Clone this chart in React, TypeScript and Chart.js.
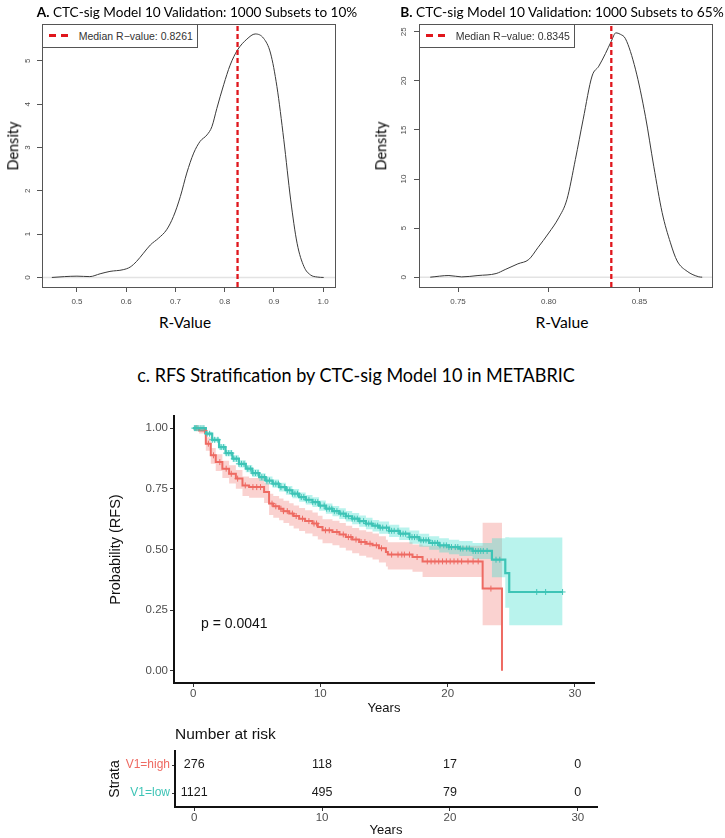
import React, { useEffect, useRef } from "react";
import { Chart, registerables } from "chart.js";

Chart.register(...registerables);
Chart.defaults.font.family = "'Liberation Sans', Arial, sans-serif";

// ---------- Panel A: density of R-values, 1000 subsets to 10% ----------
const rValuesA = [0.449, 0.475, 0.5, 0.526, 0.547, 0.567, 0.594, 0.608, 0.621, 0.635, 0.649, 0.666, 0.682, 0.696, 0.71, 0.723, 0.737, 0.75, 0.764, 0.774, 0.784, 0.798, 0.811, 0.826, 0.845, 0.862, 0.879, 0.893, 0.906, 0.92, 0.934, 0.947, 0.961, 0.974, 0.988, 1.001];
const densityA = [0.0, 0.02, 0.03, 0.02, 0.085, 0.14, 0.18, 0.24, 0.37, 0.56, 0.75, 0.91, 1.1, 1.41, 1.87, 2.41, 2.87, 3.14, 3.29, 3.48, 3.9, 4.45, 4.9, 5.25, 5.5, 5.62, 5.52, 5.18, 4.41, 3.18, 1.79, 0.79, 0.25, 0.06, 0.01, 0.0];
const medianA = 0.8261;
const xTicksA = [0.5, 0.6, 0.7, 0.8, 0.9, 1.0];
const yTicksA = [0, 1, 2, 3, 4, 5];

// ---------- Panel B: density of R-values, 1000 subsets to 65% ----------
const rValuesB = [0.7347, 0.745, 0.752, 0.761, 0.771, 0.776, 0.783, 0.789, 0.794, 0.8, 0.8055, 0.81, 0.8147, 0.819, 0.8239, 0.8276, 0.8313, 0.8345, 0.837, 0.8395, 0.8423, 0.8478, 0.8533, 0.8579, 0.8625, 0.8671, 0.8708, 0.8763, 0.8827, 0.8846];
const densityB = [0, 0.17, 0.03, 0.17, 0.37, 0.78, 1.36, 1.8, 3.0, 4.5, 6.05, 7.9, 12.0, 16.1, 20.5, 21.5, 22.8, 24.05, 24.9, 24.75, 24.3, 21.2, 16.4, 11.3, 6.6, 3.5, 1.65, 0.6, 0.04, 0];
const medianB = 0.8345;
const xTicksB = [0.75, 0.8, 0.85];
const yTicksB = [0, 5, 10, 15, 20, 25];

// ---------- Panel C: RFS Kaplan-Meier curves by V1 stratum ----------
const highTimes = [0, 0.47, 1.0, 1.39, 1.78, 2.3, 2.83, 3.36, 3.88, 4.4, 5.58, 5.97, 6.3, 6.76, 7.1, 7.55, 7.9, 8.33, 8.8, 9.38, 9.8, 10.17, 10.95, 11.5, 12.0, 12.5, 13.05, 13.6, 14.1, 14.6, 15.15, 15.3, 17.24, 18.03, 22.75, 24.27];
const highSurv = [1.0, 0.99, 0.936, 0.888, 0.86, 0.833, 0.812, 0.792, 0.764, 0.757, 0.737, 0.689, 0.678, 0.668, 0.658, 0.648, 0.638, 0.627, 0.617, 0.607, 0.593, 0.579, 0.572, 0.562, 0.551, 0.541, 0.531, 0.524, 0.517, 0.505, 0.49, 0.479, 0.469, 0.451, 0.339, 0.0];
const highUpper = [1.0, 1.0, 0.962, 0.918, 0.892, 0.866, 0.847, 0.828, 0.801, 0.795, 0.776, 0.73, 0.72, 0.71, 0.701, 0.691, 0.681, 0.671, 0.662, 0.652, 0.639, 0.625, 0.618, 0.609, 0.598, 0.589, 0.579, 0.573, 0.566, 0.555, 0.54, 0.53, 0.521, 0.515, 0.61, 0.188];
const highLower = [1.0, 0.978, 0.907, 0.853, 0.823, 0.795, 0.772, 0.75, 0.72, 0.713, 0.692, 0.642, 0.631, 0.62, 0.609, 0.598, 0.587, 0.576, 0.566, 0.555, 0.541, 0.526, 0.518, 0.507, 0.496, 0.485, 0.474, 0.467, 0.459, 0.446, 0.43, 0.418, 0.408, 0.387, 0.188, 0.188];
const highCensor = [0.3, 0.9, 1.2, 1.6, 2.1, 2.6, 3.0, 3.5, 4.1, 4.7, 5.0, 5.3, 6.2, 6.5, 6.9, 7.1, 7.4, 7.8, 8.1, 8.6, 9.1, 9.5, 9.7, 10.4, 10.7, 11.3, 11.8, 12.2, 12.4, 12.8, 13.2, 13.5, 13.9, 14.4, 14.8, 15.6, 16.1, 16.4, 16.6, 17.0, 17.6, 18.4, 18.7, 19.0, 19.3, 19.6, 19.9, 20.2, 20.5, 20.8, 21.1, 21.6, 22.0, 22.4, 23.4];

const lowTimes = [0, 0.47, 1.0, 1.5, 2.04, 2.55, 3.09, 3.6, 4.14, 4.65, 5.19, 5.7, 6.24, 6.75, 7.29, 7.8, 8.33, 8.85, 9.38, 9.9, 10.43, 10.95, 11.48, 12.0, 12.5, 13.05, 13.58, 14.1, 14.62, 15.4, 16.2, 17.0, 17.77, 18.55, 19.34, 20.1, 20.91, 21.96, 23.48, 24.53, 24.84, 29.03];
const lowSurv = [1.0, 1.0, 0.977, 0.952, 0.922, 0.897, 0.874, 0.853, 0.833, 0.815, 0.798, 0.784, 0.771, 0.757, 0.744, 0.73, 0.716, 0.705, 0.695, 0.681, 0.668, 0.658, 0.648, 0.637, 0.627, 0.617, 0.607, 0.598, 0.59, 0.577, 0.565, 0.551, 0.538, 0.527, 0.517, 0.51, 0.504, 0.494, 0.458, 0.403, 0.325, 0.325];
const lowUpper = [1.0, 1.0, 0.985, 0.962, 0.934, 0.91, 0.888, 0.868, 0.848, 0.831, 0.814, 0.801, 0.788, 0.775, 0.762, 0.749, 0.735, 0.725, 0.715, 0.702, 0.689, 0.679, 0.67, 0.659, 0.65, 0.64, 0.631, 0.622, 0.615, 0.602, 0.591, 0.578, 0.565, 0.555, 0.546, 0.54, 0.535, 0.527, 0.546, 0.55, 0.549, 0.549];
const lowLower = [1.0, 1.0, 0.969, 0.942, 0.91, 0.884, 0.86, 0.838, 0.818, 0.799, 0.782, 0.767, 0.754, 0.739, 0.726, 0.711, 0.697, 0.685, 0.675, 0.66, 0.647, 0.637, 0.626, 0.615, 0.604, 0.594, 0.583, 0.574, 0.565, 0.552, 0.539, 0.524, 0.511, 0.499, 0.488, 0.48, 0.473, 0.461, 0.386, 0.26, 0.188, 0.188];
const lowCensor = [0.1, 0.2, 0.3, 0.4, 0.55, 0.7, 0.85, 1.1, 1.3, 1.5, 1.7, 1.95, 2.2, 2.4, 2.6, 2.8, 3.0, 3.2, 3.4, 3.6, 3.8, 4.0, 4.3, 4.5, 4.7, 4.9, 5.1, 5.4, 5.6, 5.8, 6.0, 6.3, 6.5, 6.7, 6.9, 7.2, 7.4, 7.6, 7.8, 8.0, 8.2, 8.5, 8.7, 8.9, 9.1, 9.4, 9.6, 9.8, 10.0, 10.3, 10.5, 10.7, 10.9, 11.1, 11.3, 11.6, 11.8, 12.0, 12.2, 12.5, 12.7, 12.9, 13.1, 13.4, 13.6, 13.8, 14.0, 14.3, 14.5, 14.7, 14.9, 15.2, 15.4, 15.6, 15.8, 16.1, 16.3, 16.5, 16.7, 17.0, 17.2, 17.4, 17.6, 17.9, 18.1, 18.3, 18.5, 18.8, 19.0, 19.2, 19.4, 19.7, 19.9, 20.1, 20.3, 20.6, 20.8, 21.0, 21.2, 21.5, 21.7, 22.0, 22.2, 22.4, 22.6, 22.8, 23.1, 23.8, 24.1, 27.0, 27.7, 29.03];

const kmXTicks = [0, 10, 20, 30];
const kmYTicks = [0, 0.25, 0.5, 0.75, 1.0];

// Number at risk table
const strata = ["V1=high", "V1=low"];
const riskTimes = [0, 10, 20, 30];
const riskHigh = [276, 118, 17, 0];
const riskLow = [1121, 495, 79, 0];

const HIGH = "#EE6A62";
const LOW = "#3EC4B6";
const HIGH_BAND = "rgba(238, 106, 98, 0.3)";
const LOW_BAND = "rgba(62, 222, 206, 0.36)";
const MEDIAN_RED = "#E0161C";

// value of a right-continuous step function at time t
function stepValue(times: number[], values: number[], t: number) {
  let v = values[0];
  for (let i = 0; i < times.length; i++) {
    if (times[i] <= t) v = values[i];
  }
  return v;
}

// thin box around the plotting region (base-graphics style)
const framePlugin = {
  id: "frame",
  afterDatasetsDraw(chart: any) {
    const { ctx, chartArea: a } = chart;
    ctx.save();
    ctx.strokeStyle = "#555";
    ctx.lineWidth = 1;
    ctx.strokeRect(Math.round(a.left) + 0.5, Math.round(a.top) + 0.5, Math.round(a.right - a.left), Math.round(a.bottom - a.top));
    ctx.restore();
  },
};

type DensityProps = {
  left: number;
  width: number;
  height: number;
  axisWidth: number;
  padRight: number;
  plotBottom: number;
  xs: number[];
  ys: number[];
  median: number;
  xRange: [number, number];
  yRange: [number, number];
  xTicks: number[];
  yTicks: number[];
  decimals: number;
  yTickPad: number;
};

function DensityChart(p: DensityProps) {
  const ref = useRef<HTMLCanvasElement>(null);
  useEffect(() => {
    const tickGrid = { display: true, drawOnChartArea: false, drawTicks: true, tickLength: 5, tickColor: "#555", tickWidth: 1 };
    const chart = new Chart(ref.current as HTMLCanvasElement, {
      type: "line",
      data: {
        datasets: [
          {
            data: [{ x: p.median, y: p.yRange[0] }, { x: p.median, y: p.yRange[1] }],
            borderColor: MEDIAN_RED,
            borderWidth: 2.3,
            borderDash: [5, 3],
            pointRadius: 0,
            order: 0,
          },
          {
            data: p.xs.map((x, i) => ({ x, y: p.ys[i] })),
            borderColor: "#3a3a3a",
            borderWidth: 1,
            pointRadius: 0,
            tension: 0.4,
            cubicInterpolationMode: "monotone",
            order: 1,
          },
          {
            data: [{ x: p.xRange[0], y: 0 }, { x: p.xRange[1], y: 0 }],
            borderColor: "#e3e3e3",
            borderWidth: 1.5,
            pointRadius: 0,
            order: 2,
          },
        ],
      } as any,
      options: {
        animation: false,
        responsive: false,
        devicePixelRatio: 1,
        events: [],
        layout: { padding: { top: 24, right: p.padRight, left: 0, bottom: 0 } },
        plugins: { legend: { display: false }, tooltip: { enabled: false } },
        scales: {
          x: {
            type: "linear",
            min: p.xRange[0],
            max: p.xRange[1],
            afterBuildTicks: (s: any) => { s.ticks = p.xTicks.map((v) => ({ value: v })); },
            afterFit: (s: any) => { s.height = p.height - p.plotBottom; },
            border: { display: false },
            grid: tickGrid,
            ticks: {
              color: "#4a4a4a",
              font: { size: 8 },
              padding: 5,
              autoSkip: false,
              maxRotation: 0,
              callback: (v: any) => Number(v).toFixed(p.decimals),
            },
          },
          y: {
            type: "linear",
            min: p.yRange[0],
            max: p.yRange[1],
            afterBuildTicks: (s: any) => { s.ticks = p.yTicks.map((v) => ({ value: v })); },
            afterFit: (s: any) => { s.width = p.axisWidth; },
            border: { display: false },
            grid: tickGrid,
            ticks: {
              color: "#4a4a4a",
              font: { size: 8 },
              padding: p.yTickPad,
              autoSkip: false,
              minRotation: 90,
              maxRotation: 90,
              crossAlign: "center",
              callback: (v: any) => String(v),
            },
          },
        },
      } as any,
      plugins: [framePlugin],
    });
    return () => chart.destroy();
  }, []);
  return <canvas ref={ref} width={p.width} height={p.height} style={{ position: "absolute", left: p.left, top: 0 }} />;
}

function KMChart() {
  const ref = useRef<HTMLCanvasElement>(null);
  useEffect(() => {
    const pts = (ts: number[], vs: number[]) => ts.map((t, i) => ({ x: t, y: vs[i] }));
    const censorPts = (cs: number[], ts: number[], vs: number[]) => cs.map((c) => ({ x: c, y: stepValue(ts, vs, c) }));
    const band = (ts: number[], vs: number[], color: string, fill: any, order: number) => ({
      data: pts(ts, vs),
      stepped: "before",
      borderWidth: 0,
      borderColor: "transparent",
      pointRadius: 0,
      backgroundColor: color,
      fill,
      order,
    });
    const tickGrid = { display: true, drawOnChartArea: false, drawTicks: true, tickLength: 4, tickColor: "#333", tickWidth: 1 };
    const chart = new Chart(ref.current as HTMLCanvasElement, {
      type: "line",
      data: {
        datasets: [
          band(highTimes, highUpper, HIGH_BAND, "+1", 11),
          band(highTimes, highLower, HIGH_BAND, false, 11),
          band(lowTimes, lowUpper, LOW_BAND, "+1", 10),
          band(lowTimes, lowLower, LOW_BAND, false, 10),
          { data: pts(highTimes, highSurv), stepped: "before", borderColor: HIGH, borderWidth: 2, pointRadius: 0, fill: false, order: 6 },
          { data: pts(lowTimes, lowSurv), stepped: "before", borderColor: LOW, borderWidth: 2.2, pointRadius: 0, fill: false, order: 5 },
          { data: censorPts(highCensor, highTimes, highSurv), showLine: false, pointStyle: "cross", pointRadius: 3, borderColor: HIGH, borderWidth: 1, order: 2 },
          { data: censorPts(lowCensor, lowTimes, lowSurv), showLine: false, pointStyle: "cross", pointRadius: 3, borderColor: LOW, borderWidth: 1, order: 1 },
        ],
      } as any,
      options: {
        animation: false,
        responsive: false,
        devicePixelRatio: 1,
        events: [],
        layout: { padding: { top: 21, right: 131, left: 100, bottom: 0 } },
        plugins: { legend: { display: false }, tooltip: { enabled: false } },
        scales: {
          x: {
            type: "linear",
            min: -1.5,
            max: 31.5,
            afterBuildTicks: (s: any) => { s.ticks = kmXTicks.map((v) => ({ value: v })); },
            afterFit: (s: any) => { s.height = 37; },
            border: { display: true, color: "#111", width: 2 },
            grid: tickGrid,
            ticks: { color: "#4D4D4D", font: { size: 11.5 }, padding: 0, autoSkip: false, maxRotation: 0 },
            title: { display: true, text: "Years", color: "#111", font: { size: 13 }, padding: { top: 0, bottom: 4 } },
          },
          y: {
            type: "linear",
            min: -0.05,
            max: 1.05,
            afterBuildTicks: (s: any) => { s.ticks = kmYTicks.map((v) => ({ value: v })); },
            afterFit: (s: any) => { s.width = 74; },
            border: { display: true, color: "#111", width: 2 },
            grid: tickGrid,
            ticks: { color: "#4D4D4D", font: { size: 11.5 }, padding: 2, autoSkip: false, callback: (v: any) => Number(v).toFixed(2) },
            title: { display: true, text: "Probability (RFS)", color: "#111", font: { size: 14.5 }, padding: { top: 7, bottom: 0 } },
          },
        },
      } as any,
    });
    return () => chart.destroy();
  }, []);
  return <canvas ref={ref} width={725} height={325} style={{ position: "absolute", left: 0, top: 395 }} />;
}

// writes each stratum's count at its (time, stratum) position
const riskLabelPlugin = {
  id: "riskLabels",
  afterDatasetsDraw(chart: any) {
    const ctx = chart.ctx;
    ctx.save();
    ctx.font = "12.5px 'Liberation Sans', Arial, sans-serif";
    ctx.fillStyle = "#1a1a1a";
    ctx.textAlign = "center";
    ctx.textBaseline = "middle";
    chart.data.datasets.forEach((ds: any, i: number) => {
      const meta = chart.getDatasetMeta(i);
      meta.data.forEach((el: any, j: number) => ctx.fillText(String(ds.counts[j]), el.x, el.y));
    });
    ctx.restore();
  },
};

function RiskTable() {
  const ref = useRef<HTMLCanvasElement>(null);
  useEffect(() => {
    const tickGrid = { display: true, drawOnChartArea: false, drawTicks: true, tickLength: 4, tickColor: "#333", tickWidth: 1, offset: false };
    const chart = new Chart(ref.current as HTMLCanvasElement, {
      type: "line",
      data: {
        datasets: [
          { data: riskTimes.map((t) => ({ x: t, y: strata[0] })), counts: riskHigh, showLine: false, pointRadius: 0 },
          { data: riskTimes.map((t) => ({ x: t, y: strata[1] })), counts: riskLow, showLine: false, pointRadius: 0 },
        ],
      } as any,
      options: {
        animation: false,
        responsive: false,
        devicePixelRatio: 1,
        events: [],
        layout: { padding: { top: 31, right: 128, left: 100, bottom: 0 } },
        plugins: { legend: { display: false }, tooltip: { enabled: false } },
        scales: {
          x: {
            type: "linear",
            min: -1.5,
            max: 31.5,
            afterBuildTicks: (s: any) => { s.ticks = riskTimes.map((v) => ({ value: v })); },
            afterFit: (s: any) => { s.height = 31; },
            border: { display: true, color: "#111", width: 2 },
            grid: tickGrid,
            ticks: { color: "#4D4D4D", font: { size: 11.5 }, padding: 0, autoSkip: false, maxRotation: 0 },
            title: { display: true, text: "Years", color: "#111", font: { size: 13 }, padding: { top: 0, bottom: 0 } },
          },
          y: {
            type: "category",
            labels: strata,
            offset: true,
            afterFit: (s: any) => { s.width = 75; },
            border: { display: true, color: "#111", width: 2 },
            grid: { ...tickGrid, tickLength: 3 },
            ticks: {
              font: { size: 12 },
              padding: 2,
              color: (c: any) => (c.index === 0 ? HIGH : LOW),
            },
            title: { display: true, text: "Strata", color: "#111", font: { size: 14 }, padding: { top: 7, bottom: 0 } },
          },
        },
      } as any,
      plugins: [riskLabelPlugin],
    });
    return () => chart.destroy();
  }, []);
  return <canvas ref={ref} width={725} height={118} style={{ position: "absolute", left: 0, top: 720 }} />;
}

// ---------- text helpers ----------
type Part = { text: string; bold?: boolean };
const measureCtx = document.createElement("canvas").getContext("2d") as CanvasRenderingContext2D;

function partsWidth(parts: Part[], size: number, family: string) {
  let w = 0;
  for (const p of parts) {
    measureCtx.font = `${p.bold ? 700 : 400} ${size}px ${family}`;
    w += measureCtx.measureText(p.text).width;
  }
  return w;
}

function FitText(props: { parts: Part[]; cx: number; cy: number; width: number; size: number; vertical?: boolean }) {
  const family = "Lato";
  const natural = partsWidth(props.parts, props.size, family);
  const k = natural > 0 ? props.width / natural : 1;
  return (
    <div
      style={{
        position: "absolute",
        left: props.cx,
        top: props.cy,
        fontFamily: "Lato, sans-serif",
        fontSize: props.size,
        lineHeight: `${props.size}px`,
        whiteSpace: "pre",
        color: "#000",
        transform: `translate(-50%, -50%) ${props.vertical ? "rotate(-90deg) " : ""}scaleX(${k})`,
      }}
    >
      {props.parts.map((p, i) => (
        <span key={i} style={{ fontWeight: p.bold ? 700 : 400 }}>{p.text}</span>
      ))}
    </div>
  );
}

function MedianLegend(props: { left: number; text: string }) {
  const dash = (x: number) => (
    <div style={{ position: "absolute", left: x, top: 9.2, width: 6.6, height: 2.4, background: MEDIAN_RED }} />
  );
  return (
    <div
      style={{
        position: "absolute",
        left: props.left,
        top: 24,
        width: 156,
        height: 24,
        boxSizing: "border-box",
        border: "1px solid #555",
        background: "#fff",
      }}
    >
      {dash(6)}
      {dash(18)}
      <div
        style={{
          position: "absolute",
          left: 35.7,
          top: 0,
          lineHeight: "22px",
          fontFamily: "'Liberation Sans', Arial, sans-serif",
          fontSize: 10.5,
          color: "#333",
          whiteSpace: "nowrap",
        }}
      >
        {props.text}
      </div>
    </div>
  );
}

const plainText = (extra: React.CSSProperties): React.CSSProperties => ({
  position: "absolute",
  fontFamily: "'Liberation Sans', Arial, sans-serif",
  whiteSpace: "nowrap",
  color: "#111",
  ...extra,
});

export default function App() {
  return (
    <div style={{ position: "absolute", left: 0, top: 0, width: 725, height: 838, overflow: "hidden", background: "#fff" }}>
      <DensityChart
        left={0}
        width={362}
        height={312}
        axisWidth={42}
        padRight={27}
        plotBottom={287}
        xs={rValuesA}
        ys={densityA}
        median={medianA}
        xRange={[0.429, 1.024]}
        yRange={[-0.22, 5.85]}
        xTicks={xTicksA}
        yTicks={yTicksA}
        decimals={1}
        yTickPad={6.8}
      />
      <DensityChart
        left={362}
        width={363}
        height={312}
        axisWidth={57}
        padRight={13}
        plotBottom={287}
        xs={rValuesB}
        ys={densityB}
        median={medianB}
        xRange={[0.7285, 0.89]}
        yRange={[-1.0, 25.8]}
        xTicks={xTicksB}
        yTicks={yTicksB}
        decimals={2}
        yTickPad={5.5}
      />
      <KMChart />
      <RiskTable />

      <MedianLegend left={42} text="Median R−value: 0.8261" />
      <MedianLegend left={419} text="Median R−value: 0.8345" />

      <FitText parts={[{ text: "A.", bold: true }, { text: " CTC-sig Model 10 Validation: 1000 Subsets to 10%" }]} cx={196.5} cy={11.5} width={321} size={14} />
      <FitText parts={[{ text: "B.", bold: true }, { text: " CTC-sig Model 10 Validation: 1000 Subsets to 65%" }]} cx={562} cy={11.5} width={324} size={14} />
      <FitText parts={[{ text: "Density" }]} cx={13} cy={146} width={49} size={15.5} vertical />
      <FitText parts={[{ text: "Density" }]} cx={381} cy={146} width={49} size={15.5} vertical />
      <FitText parts={[{ text: "R-Value" }]} cx={184.5} cy={323} width={52} size={15.5} />
      <FitText parts={[{ text: "R-Value" }]} cx={562} cy={323} width={53} size={15.5} />
      <FitText parts={[{ text: "c." }, { text: " RFS Stratification by CTC-sig Model 10 in METABRIC" }]} cx={356} cy={375} width={438} size={18.5} />

      <div style={plainText({ left: 201, top: 616, fontSize: 14, lineHeight: "14px" })}>p = 0.0041</div>
      <div style={plainText({ left: 175, top: 725.5, fontSize: 15.5, lineHeight: "15.5px" })}>Number at risk</div>
    </div>
  );
}
